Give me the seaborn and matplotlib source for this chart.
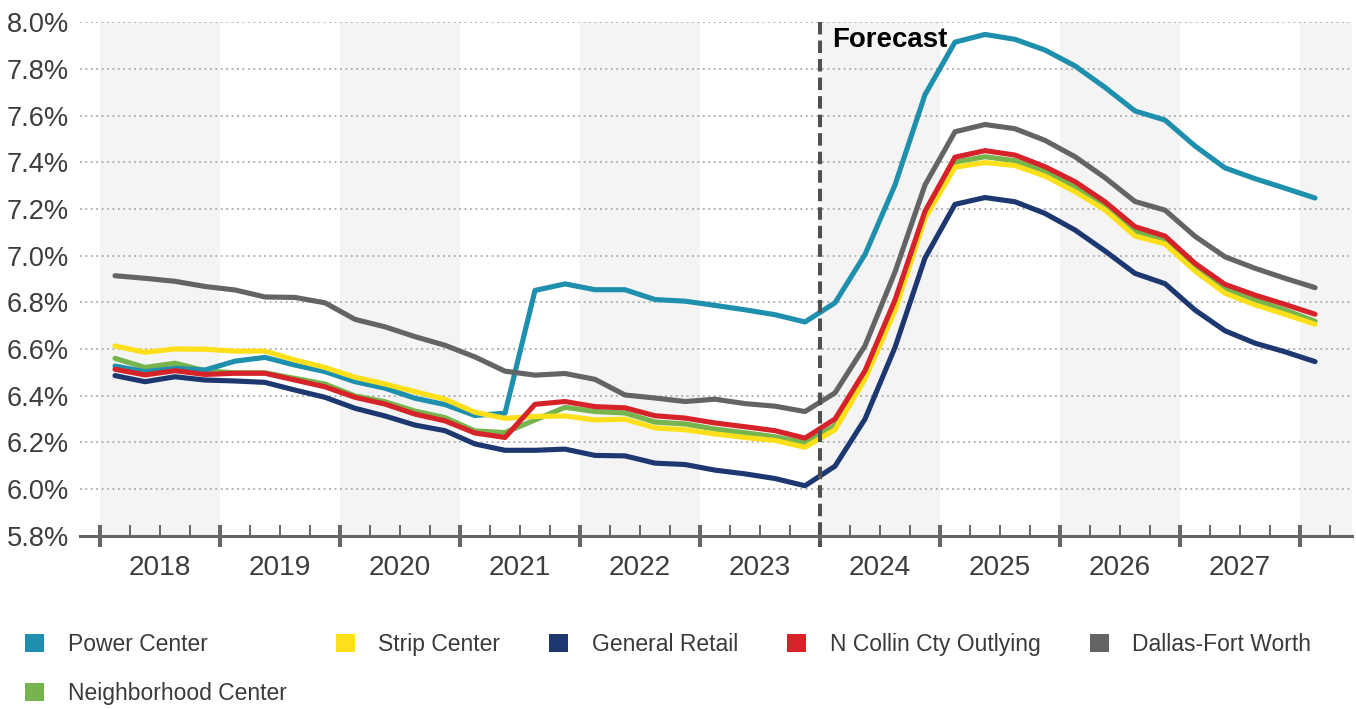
import numpy as np
import pandas as pd
import matplotlib
matplotlib.use("Agg")
import matplotlib.pyplot as plt
from matplotlib.patches import Patch
import seaborn as sns

# Quarterly cap rates (%), 2018 Q1 through 2028 Q1
quarters = [f"{y}Q{q}" for y in range(2018, 2029) for q in range(1, 5)][:41]
year_labels = [str(y) for y in range(2018, 2028)]

power_center = [6.527, 6.503, 6.517, 6.510, 6.548, 6.564, 6.531, 6.503, 6.460, 6.432,
                6.389, 6.362, 6.315, 6.325, 6.851, 6.879, 6.854, 6.854, 6.812, 6.805,
                6.787, 6.768, 6.747, 6.716, 6.798, 7.005, 7.303, 7.690, 7.915, 7.948,
                7.927, 7.881, 7.813, 7.721, 7.620, 7.581, 7.470, 7.376, 7.330, 7.289,
                7.247]
strip_center = [6.613, 6.586, 6.600, 6.599, 6.591, 6.591, 6.553, 6.521, 6.479, 6.450,
                6.417, 6.385, 6.329, 6.303, 6.311, 6.313, 6.296, 6.299, 6.262, 6.254,
                6.236, 6.221, 6.208, 6.179, 6.254, 6.471, 6.764, 7.160, 7.379, 7.399,
                7.386, 7.341, 7.274, 7.196, 7.084, 7.050, 6.934, 6.839, 6.789, 6.749,
                6.706]
general_retail = [6.486, 6.460, 6.481, 6.467, 6.463, 6.457, 6.424, 6.393, 6.346, 6.313,
                  6.274, 6.250, 6.193, 6.166, 6.166, 6.171, 6.144, 6.142, 6.111, 6.105,
                  6.081, 6.065, 6.045, 6.014, 6.098, 6.300, 6.607, 6.990, 7.220, 7.249,
                  7.231, 7.181, 7.110, 7.020, 6.924, 6.880, 6.767, 6.678, 6.625, 6.588,
                  6.546]
n_collin = [6.513, 6.489, 6.507, 6.491, 6.496, 6.496, 6.467, 6.438, 6.393, 6.364,
            6.321, 6.292, 6.240, 6.221, 6.363, 6.375, 6.353, 6.348, 6.314, 6.304,
            6.283, 6.267, 6.250, 6.218, 6.300, 6.507, 6.810, 7.190, 7.422, 7.450,
            7.431, 7.381, 7.317, 7.231, 7.124, 7.084, 6.967, 6.877, 6.831, 6.791,
            6.749]
dallas_fw = [6.914, 6.903, 6.890, 6.868, 6.853, 6.823, 6.821, 6.798, 6.727, 6.695,
             6.653, 6.616, 6.566, 6.505, 6.488, 6.495, 6.470, 6.403, 6.390, 6.375,
             6.385, 6.366, 6.355, 6.332, 6.412, 6.614, 6.930, 7.303, 7.531, 7.562,
             7.544, 7.494, 7.424, 7.334, 7.232, 7.195, 7.083, 6.995, 6.946, 6.903,
             6.863]
neighborhood = [6.560, 6.521, 6.539, 6.507, 6.498, 6.498, 6.474, 6.450, 6.399, 6.374,
                6.334, 6.306, 6.249, 6.242, 6.296, 6.350, 6.332, 6.326, 6.287, 6.279,
                6.257, 6.241, 6.224, 6.198, 6.271, 6.486, 6.786, 7.175, 7.401, 7.424,
                7.407, 7.360, 7.293, 7.210, 7.103, 7.063, 6.950, 6.856, 6.810, 6.767,
                6.719]

series = {
    "Power Center": power_center,
    "Strip Center": strip_center,
    "General Retail": general_retail,
    "N Collin Cty Outlying": n_collin,
    "Dallas-Fort Worth": dallas_fw,
    "Neighborhood Center": neighborhood,
}
palette = {
    "Power Center": "#1f8fae",
    "Strip Center": "#fde01a",
    "General Retail": "#1d3871",
    "N Collin Cty Outlying": "#d6232a",
    "Dallas-Fort Worth": "#636466",
    "Neighborhood Center": "#76b54e",
}
draw_order = ["Neighborhood Center", "Power Center", "Strip Center",
              "General Retail", "N Collin Cty Outlying", "Dallas-Fort Worth"]
legend_order = ["Power Center", "Neighborhood Center", "Strip Center",
                "General Retail", "N Collin Cty Outlying", "Dallas-Fort Worth"]

df = pd.DataFrame([
    {"idx": i, "quarter": q, "series": name, "rate": vals[i]}
    for name, vals in series.items() for i, q in enumerate(quarters)
])

sns.set_theme(style="white")
plt.rcParams["font.family"] = ["Liberation Sans", "DejaVu Sans"]
plt.rcParams["lines.solid_capstyle"] = "round"
plt.rcParams["lines.solid_joinstyle"] = "round"

W, H = 1356, 709
fig = plt.figure(figsize=(W / 100, H / 100), dpi=100)
ax = fig.add_axes([80 / W, 1 - 535.7 / H, (1352 - 80) / W, (535.7 - 22.3) / H])

n = len(quarters)
x_min, x_max = -1.1667, 41.233
ax.set_xlim(x_min, x_max)
ax.set_ylim(5.8, 8.0)

# alternating year bands
for k in range(0, 12, 2):
    ax.axvspan(-0.5 + 4 * k, 3.5 + 4 * k, color="#f4f4f4", zorder=0, lw=0)

sns.lineplot(data=df, x="idx", y="rate", hue="series", hue_order=draw_order,
             palette=palette, linewidth=3.7, legend=False, ax=ax, zorder=3)

# y axis
yt = np.round(np.arange(5.8, 8.01, 0.2), 1)
ax.set_yticks(yt)
ax.set_yticklabels([f"{v:.1f}%" for v in yt])
ax.tick_params(axis="y", left=False, length=0, pad=8, labelsize=19.6,
               labelcolor="#3d3d3d")
ax.yaxis.grid(True, linestyle=(0, (1, 2)), color="#a9a9a9", linewidth=1.3)
ax.xaxis.grid(False)
ax.set_axisbelow(True)

# x axis: year boundaries (major) and quarter boundaries (minor)
majors = np.arange(-0.5, n, 4)
minors = [q + 0.5 for q in range(n) if (q + 1) % 4 != 0]
ax.set_xticks(majors)
ax.set_xticks(minors, minor=True)
ax.tick_params(axis="x", which="major", bottom=True, direction="inout", length=16,
               width=2.9, color="#666666", labelbottom=False)
ax.tick_params(axis="x", which="minor", bottom=True, direction="in", length=7.7,
               width=1.4, color="#666666", labelbottom=False)
ax.set_xlabel("")
ax.set_ylabel("")
for s in ("top", "right", "left"):
    ax.spines[s].set_visible(False)
ax.spines["bottom"].set_color("#666666")
ax.spines["bottom"].set_linewidth(2.2)

for i, lab in enumerate(year_labels):
    ax.annotate(lab, xy=(1.5 + 4 * i, 0), xycoords=("data", "axes fraction"),
                xytext=(0, -23.0), textcoords="offset points",
                ha="center", va="center", fontsize=20.2, color="#3d3d3d")

# forecast divider
ax.plot([23.5, 23.5], [8.0, 5.753], color="#505050", linewidth=2.9,
        linestyle=(0, (3.1, 1.5)), clip_on=False, zorder=4)
ax.text(23.9, 7.895, "Forecast", fontsize=19.9, fontweight="bold",
        color="black", ha="left", va="baseline", zorder=5)

handles = [Patch(facecolor=palette[name], edgecolor="none") for name in legend_order]
fig.legend(handles, legend_order, loc="upper left",
           bbox_to_anchor=(25 / W, 1 - 633 / H), ncol=5, frameon=False,
           fontsize=16.5, handlelength=0.83, handleheight=0.85,
           handletextpad=1.04, columnspacing=2.13, borderpad=0,
           borderaxespad=0, labelspacing=1.13, labelcolor="#3a3a3a")

fig.savefig("out.png", dpi=100)
